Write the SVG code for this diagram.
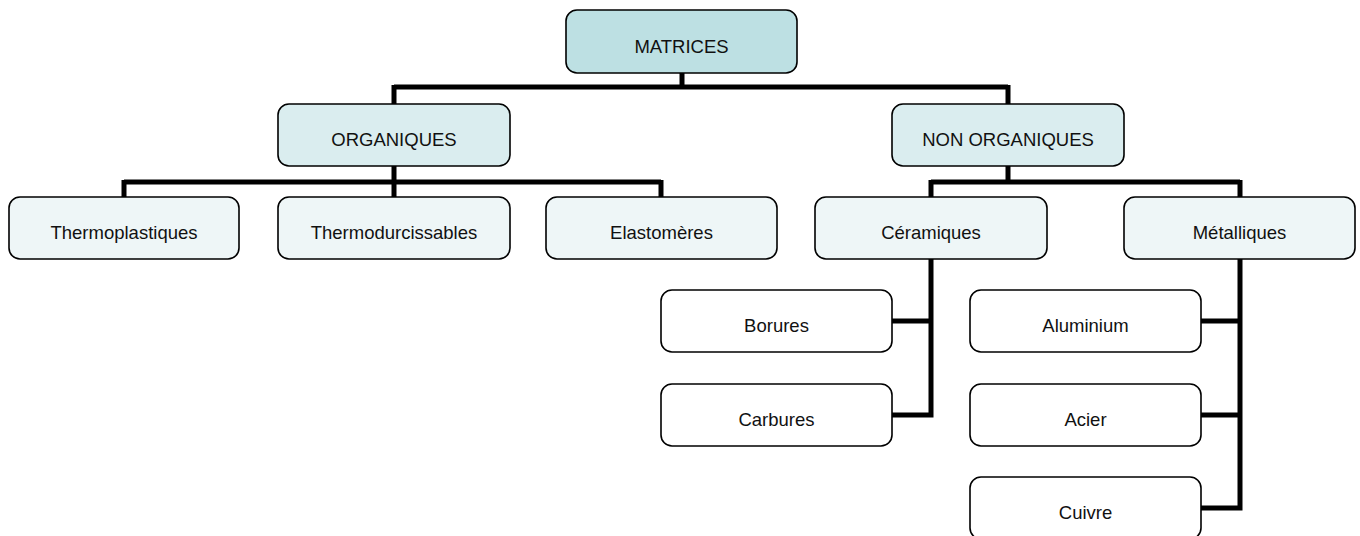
<svg xmlns="http://www.w3.org/2000/svg" width="1360" height="536" viewBox="0 0 1360 536">
<style>
rect{stroke:#000;stroke-width:1.6;rx:11;ry:11}
.l0{fill:#BDE0E3}
.l1{fill:#DAEDEF}
.l2{fill:#EEF6F7}
.l3{fill:#FFFFFF}
text{font-family:"Liberation Sans",Arial,sans-serif;font-size:18.5px;fill:#111;text-anchor:middle}
#connectors path{fill:none;stroke:#000;stroke-width:5;stroke-linejoin:miter;stroke-linecap:butt}
</style>
<rect width="1360" height="536" fill="#fff" style="stroke:none"/>
<g id="connectors">
<path d="M682,73 V87 M394,87 H1008 M394,85 V104 M1008,85 V104"/>
<path d="M394,166 V182 M124,182 H661 M124,180 V197 M394,180 V197 M661,180 V197"/>
<path d="M1008,166 V182 M931,182 H1240 M931,180 V197 M1240,180 V197"/>
<path d="M931,259 V417.5 M892,321 H933 M892,415 H933"/>
<path d="M1240,259 V510.5 M1201,321 H1242 M1201,415 H1242 M1201,508 H1242"/>
</g>
<g id="matrices"><rect class="l0" x="566" y="10" width="231" height="63"/><text x="681.5" y="53">MATRICES</text></g>
<g id="organiques"><rect class="l1" x="278" y="104" width="232" height="62"/><text x="394" y="146">ORGANIQUES</text></g>
<g id="non-organiques"><rect class="l1" x="892" y="104" width="232" height="62"/><text x="1008" y="146">NON ORGANIQUES</text></g>
<g id="thermoplastiques"><rect class="l2" x="9" y="197" width="230" height="62"/><text x="124" y="239">Thermoplastiques</text></g>
<g id="thermodurcissables"><rect class="l2" x="278" y="197" width="232" height="62"/><text x="394" y="239">Thermodurcissables</text></g>
<g id="elastomeres"><rect class="l2" x="546" y="197" width="231" height="62"/><text x="661.5" y="239">Elastomères</text></g>
<g id="ceramiques"><rect class="l2" x="815" y="197" width="232" height="62"/><text x="931" y="239">Céramiques</text></g>
<g id="metalliques"><rect class="l2" x="1124" y="197" width="231" height="62"/><text x="1239.5" y="239">Métalliques</text></g>
<g id="borures"><rect class="l3" x="661" y="290" width="231" height="62"/><text x="776.5" y="332">Borures</text></g>
<g id="carbures"><rect class="l3" x="661" y="384" width="231" height="62"/><text x="776.5" y="426">Carbures</text></g>
<g id="aluminium"><rect class="l3" x="970" y="290" width="231" height="62"/><text x="1085.5" y="332">Aluminium</text></g>
<g id="acier"><rect class="l3" x="970" y="384" width="231" height="62"/><text x="1085.5" y="426">Acier</text></g>
<g id="cuivre"><rect class="l3" x="970" y="477" width="231" height="62"/><text x="1085.5" y="519">Cuivre</text></g>
</svg>
